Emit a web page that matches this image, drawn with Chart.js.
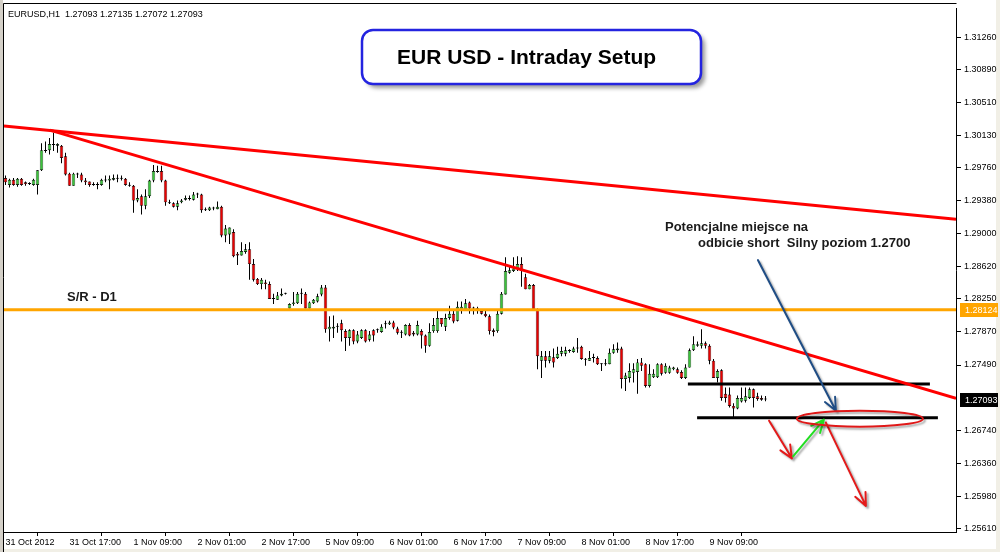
<!DOCTYPE html>
<html>
<head>
<meta charset="utf-8">
<title>EUR USD - Intraday Setup</title>
<script src="https://cdn.jsdelivr.net/npm/chart.js@4.4.1/dist/chart.umd.min.js"></script>
<style>
  html, body { margin: 0; padding: 0; background: #ffffff; overflow: hidden; }
  canvas { display: block; }
</style>
</head>
<body>
<canvas id="myChart" width="1000" height="552"></canvas>
<script>
// EURUSD H1 - one value per hourly bar, bar 0 = 31 Oct 2012 01:00
const opens = [
  1.2964,1.2956,1.2962,1.2956,1.2963,1.2959,1.2957,1.2956,1.2956,1.2973,
  1.2996,1.2996,1.3003,1.3001,1.3001,1.2989,1.2969,1.2955,1.2968,1.2968,
  1.2961,1.2960,1.2956,1.2957,1.2956,1.2962,1.2961,1.2962,1.2963,1.2964,
  1.2963,1.2956,1.2955,1.2938,1.2943,1.2932,1.2943,1.2961,1.2971,1.2972,
  1.2961,1.2935,1.2935,1.2931,1.2936,1.2939,1.2940,1.2939,1.2945,1.2945,
  1.2928,1.2927,1.2929,1.2928,1.2931,1.2898,1.2899,1.2902,1.2877,1.2875,
  1.2879,1.2882,1.2865,1.2848,1.2842,1.2844,1.2842,1.2825,1.2824,1.2829,
  1.2831,1.2814,1.2819,1.2820,1.2831,1.2831,1.2814,1.2820,1.2822,1.2830,
  1.2838,1.2790,1.2791,1.2793,1.2797,1.2788,1.2780,1.2789,1.2776,1.2780,
  1.2789,1.2778,1.2789,1.2789,1.2787,1.2796,1.2796,1.2798,1.2791,1.2787,
  1.2784,1.2795,1.2786,1.2784,1.2788,1.2783,1.2771,1.2788,1.2788,1.2803,
  1.2793,1.2803,1.2808,1.2800,1.2811,1.2813,1.2821,1.2815,1.2814,1.2811,
  1.2808,1.2805,1.2789,1.2788,1.2808,1.2830,1.2855,1.2857,1.2860,1.2865,
  1.2850,1.2836,1.2841,1.2813,1.2754,1.2759,1.2754,1.2758,1.2757,1.2762,
  1.2762,1.2765,1.2764,1.2768,1.2770,1.2756,1.2754,1.2757,1.2757,1.2750,
  1.2750,1.2750,1.2763,1.2766,1.2768,1.2733,1.2734,1.2740,1.2741,1.2752,
  1.2750,1.2725,1.2735,1.2735,1.2750,1.2740,1.2740,1.2744,1.2744,1.2741,
  1.2734,1.2746,1.2766,1.2771,1.2771,1.2774,1.2771,1.2754,1.2734,1.2743,
  1.2716,1.2715,1.2702,1.2699,1.2707,1.2708,1.2711,1.2721,1.2713,1.2711,
  1.27093
];
const highs = [
  1.2967,1.2963,1.2964,1.2964,1.2964,1.2960,1.2959,1.2963,1.2973,1.3004,
  1.3006,1.3010,1.3016,1.3004,1.3002,1.2993,1.2970,1.2970,1.2970,1.2970,
  1.2964,1.2960,1.2959,1.2959,1.2963,1.2967,1.2967,1.2968,1.2968,1.2967,
  1.2964,1.2959,1.2956,1.2951,1.2945,1.2951,1.2962,1.2979,1.2978,1.2978,
  1.2962,1.2939,1.2936,1.2938,1.2940,1.2944,1.2944,1.2948,1.2947,1.2946,
  1.2930,1.2931,1.2931,1.2937,1.2932,1.2910,1.2907,1.2905,1.2879,1.2890,
  1.2888,1.2890,1.2871,1.2849,1.2849,1.2847,1.2845,1.2831,1.2833,1.2837,
  1.2832,1.2820,1.2833,1.2833,1.2837,1.2833,1.2822,1.2825,1.2831,1.2841,
  1.2841,1.2805,1.2806,1.2797,1.2801,1.2790,1.2790,1.2790,1.2788,1.2790,
  1.2790,1.2788,1.2790,1.2791,1.2796,1.2800,1.2800,1.2800,1.2793,1.2789,
  1.2796,1.2797,1.2788,1.2800,1.2790,1.2784,1.2797,1.2803,1.2811,1.2803,
  1.2808,1.2817,1.2813,1.2822,1.2822,1.2825,1.2822,1.2816,1.2816,1.2813,
  1.2811,1.2807,1.2791,1.2813,1.2833,1.2873,1.2862,1.2873,1.2874,1.2873,
  1.2854,1.2842,1.2842,1.2814,1.2765,1.2765,1.2765,1.2768,1.2770,1.2770,
  1.2770,1.2767,1.2770,1.2780,1.2771,1.2757,1.2765,1.2762,1.2759,1.2751,
  1.2756,1.2768,1.2773,1.2775,1.2770,1.2740,1.2751,1.2751,1.2756,1.2757,
  1.2751,1.2750,1.2744,1.2751,1.2751,1.2751,1.2748,1.2747,1.2746,1.2743,
  1.2750,1.2768,1.2782,1.2776,1.2790,1.2776,1.2773,1.2756,1.2744,1.2744,
  1.2723,1.2723,1.2705,1.2714,1.2723,1.2723,1.2723,1.2722,1.2717,1.2714,
  1.27135
];
const lows = [
  1.2956,1.2953,1.2955,1.2954,1.2955,1.2955,1.2956,1.2955,1.2945,1.2972,
  1.2993,1.2991,1.2995,1.2993,1.2981,1.2967,1.2955,1.2955,1.2964,1.2959,
  1.2956,1.2954,1.2955,1.2951,1.2955,1.2959,1.2951,1.2961,1.2959,1.2961,
  1.2955,1.2954,1.2924,1.2936,1.2922,1.2928,1.2941,1.2959,1.2970,1.2959,
  1.2932,1.2934,1.2930,1.2927,1.2935,1.2938,1.2938,1.2938,1.2941,1.2924,
  1.2926,1.2926,1.2927,1.2928,1.2896,1.2890,1.2888,1.2873,1.2864,1.2875,
  1.2877,1.2847,1.2845,1.2841,1.2836,1.2836,1.2825,1.2819,1.2824,1.2828,
  1.2830,1.2814,1.2817,1.2819,1.2819,1.2814,1.2814,1.2819,1.2821,1.2828,
  1.2786,1.2776,1.2780,1.2786,1.2776,1.2765,1.2771,1.2773,1.2774,1.2779,
  1.2775,1.2776,1.2776,1.2786,1.2786,1.2791,1.2795,1.2790,1.2784,1.2780,
  1.2783,1.2782,1.2782,1.2783,1.2768,1.2763,1.2770,1.2786,1.2786,1.2793,
  1.2788,1.2801,1.2797,1.2799,1.2808,1.2811,1.2808,1.2807,1.2808,1.2807,
  1.2804,1.2784,1.2782,1.2786,1.2807,1.2830,1.2854,1.2856,1.2857,1.2839,
  1.2836,1.2836,1.2811,1.2744,1.2734,1.2746,1.2751,1.2746,1.2756,1.2759,
  1.2759,1.2763,1.2763,1.2763,1.2755,1.2748,1.2754,1.2752,1.2749,1.2742,
  1.2748,1.2750,1.2762,1.2763,1.2722,1.2719,1.2729,1.2729,1.2716,1.2742,
  1.2723,1.2723,1.2734,1.2734,1.2737,1.2739,1.2739,1.2743,1.2739,1.2733,
  1.2733,1.2746,1.2765,1.2770,1.2768,1.2768,1.2750,1.2734,1.2729,1.2708,
  1.2706,1.2700,1.2689,1.2698,1.2706,1.2706,1.2710,1.2700,1.2708,1.2708,
  1.27072
];
const closes = [
  1.2959,1.2962,1.2956,1.2963,1.2956,1.2957,1.2957,1.2962,1.2973,1.2996,
  1.2995,1.3003,1.3002,1.3003,1.2987,1.2968,1.2955,1.2969,1.2969,1.2961,
  1.2959,1.2956,1.2957,1.2956,1.2962,1.2961,1.2963,1.2964,1.2964,1.2963,
  1.2956,1.2955,1.2938,1.2941,1.2932,1.2943,1.2961,1.2972,1.2972,1.2961,
  1.2936,1.2935,1.2931,1.2935,1.2938,1.2941,1.2941,1.2945,1.2945,1.2927,
  1.2927,1.2930,1.2930,1.2931,1.2898,1.2906,1.2907,1.2874,1.2875,1.2880,
  1.2882,1.2865,1.2847,1.2842,1.2847,1.2842,1.2825,1.2825,1.2829,1.2831,
  1.2831,1.2819,1.2821,1.2831,1.2831,1.2814,1.2821,1.2824,1.2828,1.2838,
  1.2790,1.2793,1.2793,1.2793,1.2789,1.2780,1.2789,1.2776,1.2784,1.2789,
  1.2776,1.2784,1.2783,1.2789,1.2793,1.2797,1.2798,1.2792,1.2786,1.2786,
  1.2795,1.2783,1.2784,1.2795,1.2783,1.2771,1.2787,1.2795,1.2803,1.2796,
  1.2803,1.2808,1.2799,1.2816,1.2816,1.2820,1.2814,1.2814,1.2813,1.2808,
  1.2805,1.2788,1.2787,1.2808,1.2831,1.2857,1.2858,1.2860,1.2865,1.2857,
  1.2836,1.2841,1.2813,1.2759,1.2759,1.2754,1.2759,1.2752,1.2762,1.2765,
  1.2766,1.2766,1.2768,1.2768,1.2756,1.2755,1.2757,1.2757,1.2750,1.2750,
  1.2751,1.2763,1.2767,1.2768,1.2733,1.2737,1.2742,1.2744,1.2752,1.2748,
  1.2725,1.2739,1.2739,1.2750,1.2739,1.2748,1.2746,1.2746,1.2740,1.2734,
  1.2746,1.2766,1.2773,1.2773,1.2774,1.2771,1.2754,1.2734,1.2742,1.2711,
  1.2711,1.2702,1.2699,1.2711,1.2711,1.2713,1.2721,1.2711,1.2710,1.2709,
  1.27093
];

const timeLabels = ['31 Oct 2012', '31 Oct 17:00', '1 Nov 09:00', '2 Nov 01:00', '2 Nov 17:00',
  '5 Nov 09:00', '6 Nov 01:00', '6 Nov 17:00', '7 Nov 09:00', '8 Nov 01:00', '8 Nov 17:00', '9 Nov 09:00'];
const labelEvery = 16; // bars between time labels
const priceTicks = [1.31260, 1.30890, 1.30510, 1.30130, 1.29760, 1.29380, 1.29000, 1.28620,
  1.28250, 1.27870, 1.27490, 1.26740, 1.26360, 1.25980, 1.25610];

// drawn objects, as [bar, price]
const srLevel = 1.28124;
const trendUpper = [[-0.375, 1.30237], [237.625, 1.29165]];
const trendLower = [[11.1, 1.30191], [237.625, 1.27106]];
const rangeTop = [[170.6, 1.27272], [231.1, 1.27272]];
const rangeBottom = [[172.9, 1.26884], [233.1, 1.26884]];
const arrowFrom = [[188.1, 1.28697], [190.9, 1.26850], [196.9, 1.26440], [205.1, 1.26828]];
const arrowTo = [[207.6, 1.26964], [196.6, 1.26417], [204.6, 1.26862], [215.1, 1.25870]];
const targetZone = [213.6, 1.26873];

const bull = '#3cc23c';
const bear = '#e80000';
const FONT = "'Liberation Sans', Arial, sans-serif";

Chart.defaults.font.family = FONT;
Chart.defaults.color = '#000';

function toXY(pts) {
  return pts.map(p => ({x: p[0], y: p[1]}));
}

function drawArrow(ctx, x1, y1, x2, y2, color) {
  const a = Math.atan2(y2 - y1, x2 - x1);
  const len = 14, spread = 0.42;
  ctx.strokeStyle = color;
  ctx.lineWidth = 2;
  ctx.lineCap = 'round';
  ctx.lineJoin = 'round';
  ctx.beginPath();
  ctx.moveTo(x1, y1);
  ctx.lineTo(x2, y2);
  ctx.moveTo(x2 - len * Math.cos(a - spread), y2 - len * Math.sin(a - spread));
  ctx.lineTo(x2, y2);
  ctx.lineTo(x2 - len * Math.cos(a + spread), y2 - len * Math.sin(a + spread));
  ctx.stroke();
}

const decor = {
  id: 'decor',
  beforeDraw(chart) {
    const {ctx, width, height} = chart;
    ctx.save();
    ctx.fillStyle = '#ffffff';
    ctx.fillRect(0, 0, width, height);
    ctx.fillStyle = '#d4d0c8';
    ctx.fillRect(0, 0, 3, height);
    ctx.fillStyle = '#f1efe6';
    ctx.fillRect(996, 0, 4, height);
    ctx.fillRect(3, 549, width, 3);
    ctx.restore();
  },
  afterDatasetsDraw(chart) {
    const {ctx} = chart;
    const xs = chart.scales.x, ys = chart.scales.y;
    const px = v => xs.getPixelForValue(v);
    const py = v => ys.getPixelForValue(v);
    ctx.save();

    // header
    ctx.fillStyle = '#000';
    ctx.font = '9px ' + FONT;
    ctx.textBaseline = 'alphabetic';
    ctx.fillText('EURUSD,H1  1.27093 1.27135 1.27072 1.27093', 8, 17);

    // texts
    ctx.font = 'bold 13px ' + FONT;
    ctx.fillStyle = '#1a1a1a';
    ctx.fillText('S/R - D1', 67, 301);
    ctx.fillText('Potencjalne miejsce na', 665, 231);
    ctx.fillText('odbicie short  Silny poziom 1.2700', 698, 247);

    // arrows and target ellipse with a soft shadow
    ctx.shadowColor = 'rgba(0,0,0,0.35)';
    ctx.shadowOffsetX = 2;
    ctx.shadowOffsetY = 2;
    ctx.shadowBlur = 2;
    const arrowColors = ['#1f4d85', '#e41a1a', '#22dd22', '#e41a1a'];
    arrowFrom.forEach((f, i) => {
      const t = arrowTo[i];
      drawArrow(ctx, px(f[0]), py(f[1]), px(t[0]), py(t[1]), arrowColors[i]);
    });
    ctx.strokeStyle = '#e01818';
    ctx.lineWidth = 2;
    ctx.beginPath();
    ctx.ellipse(px(targetZone[0]), py(targetZone[1]), 63, 8, 0, 0, Math.PI * 2);
    ctx.stroke();

    // title box
    ctx.shadowColor = 'rgba(0,0,0,0.4)';
    ctx.shadowOffsetX = 4;
    ctx.shadowOffsetY = 4;
    ctx.shadowBlur = 4;
    ctx.fillStyle = '#ffffff';
    ctx.beginPath();
    ctx.roundRect(362, 30, 339, 54, 11);
    ctx.fill();
    ctx.shadowColor = 'transparent';
    ctx.strokeStyle = '#2424e0';
    ctx.lineWidth = 2.5;
    ctx.stroke();
    ctx.fillStyle = '#000';
    ctx.font = 'bold 21px ' + FONT;
    ctx.fillText('EUR USD - Intraday Setup', 397, 64);
    ctx.restore();
  },
  afterDraw(chart) {
    const {ctx, chartArea} = chart;
    const ys = chart.scales.y;
    ctx.save();
    // chart frame, left and top
    ctx.strokeStyle = '#000';
    ctx.lineWidth = 1;
    ctx.beginPath();
    ctx.moveTo(3.5, chart.height);
    ctx.lineTo(3.5, 3.5);
    ctx.lineTo(chartArea.right + 0.5, 3.5);
    ctx.stroke();

    // price tags on the axis
    const tags = [[srLevel, '#ffa500'], [closes[closes.length - 1], '#000000']];
    ctx.font = '9px ' + FONT;
    ctx.textBaseline = 'middle';
    tags.forEach(([v, col]) => {
      const y = Math.round(ys.getPixelForValue(v));
      ctx.fillStyle = col;
      ctx.fillRect(chartArea.right + 4, y - 7, 38, 14);
      ctx.fillStyle = '#ffffff';
      ctx.fillText(v.toFixed(5), chartArea.right + 9, y + 0.5);
    });
    ctx.restore();
  }
};

const ctx = document.getElementById('myChart').getContext('2d');

const lineDefaults = {type: 'line', pointRadius: 0, fill: false, borderCapStyle: 'butt', order: 0};

window.myChart = new Chart(ctx, {
  type: 'bar',
  data: {
    datasets: [
      Object.assign({}, lineDefaults, {
        label: 'trend upper', data: toXY(trendUpper), borderColor: '#ff0000', borderWidth: 3
      }),
      Object.assign({}, lineDefaults, {
        label: 'trend lower', data: toXY(trendLower), borderColor: '#ff0000', borderWidth: 3
      }),
      Object.assign({}, lineDefaults, {
        label: 'S/R - D1', data: [{x: -0.375, y: srLevel}, {x: 237.625, y: srLevel}],
        borderColor: '#ffa500', borderWidth: 3
      }),
      Object.assign({}, lineDefaults, {
        label: 'range top', data: toXY(rangeTop), borderColor: '#000000', borderWidth: 3
      }),
      Object.assign({}, lineDefaults, {
        label: 'range bottom', data: toXY(rangeBottom), borderColor: '#000000', borderWidth: 3
      }),
      {
        label: 'body',
        data: opens.map((o, i) => ({x: i, y: [o, closes[i]]})),
        backgroundColor: c => closes[c.dataIndex] >= opens[c.dataIndex] ? bull : bear,
        borderColor: '#000000',
        borderWidth: 0.7,
        borderSkipped: false,
        barThickness: 3.4,
        minBarLength: 1,
        inflateAmount: 0,
        grouped: false,
        order: 1
      },
      {
        label: 'wick',
        data: lows.map((lo, i) => ({x: i, y: [lo, highs[i]]})),
        backgroundColor: '#000000',
        borderWidth: 0,
        barThickness: 1,
        inflateAmount: 0,
        grouped: false,
        order: 2
      }
    ]
  },
  options: {
    responsive: false,
    animation: false,
    events: [],
    layout: {padding: {left: 4, top: 4, right: 0, bottom: 0}, autoPadding: false},
    plugins: {legend: {display: false}, tooltip: {enabled: false}},
    scales: {
      x: {
        type: 'linear',
        position: 'bottom',
        min: -0.375,
        max: 237.625,
        offset: false,
        bounds: 'data',
        afterBuildTicks: s => { s.ticks = timeLabels.map((_, k) => ({value: k * labelEvery})); },
        afterFit: s => { s.height = 20; },
        grid: {drawOnChartArea: false, drawTicks: true, tickLength: 4, color: '#000'},
        border: {display: true, color: '#000', width: 1},
        ticks: {
          autoSkip: false, maxRotation: 0, minRotation: 0, align: 'start', padding: 1,
          font: {size: 9}, color: '#000',
          callback: (v, i) => timeLabels[i]
        }
      },
      y: {
        type: 'linear',
        position: 'right',
        min: 1.2557,
        max: 1.3159,
        bounds: 'data',
        afterBuildTicks: s => { s.ticks = priceTicks.map(v => ({value: v})); },
        afterFit: s => { s.width = 44; },
        grid: {drawOnChartArea: false, drawTicks: true, tickLength: 5, color: '#000'},
        border: {display: true, color: '#000', width: 1},
        ticks: {padding: 3, font: {size: 9}, color: '#000', callback: v => v.toFixed(5)}
      }
    }
  },
  plugins: [decor]
});
</script>
</body>
</html>
